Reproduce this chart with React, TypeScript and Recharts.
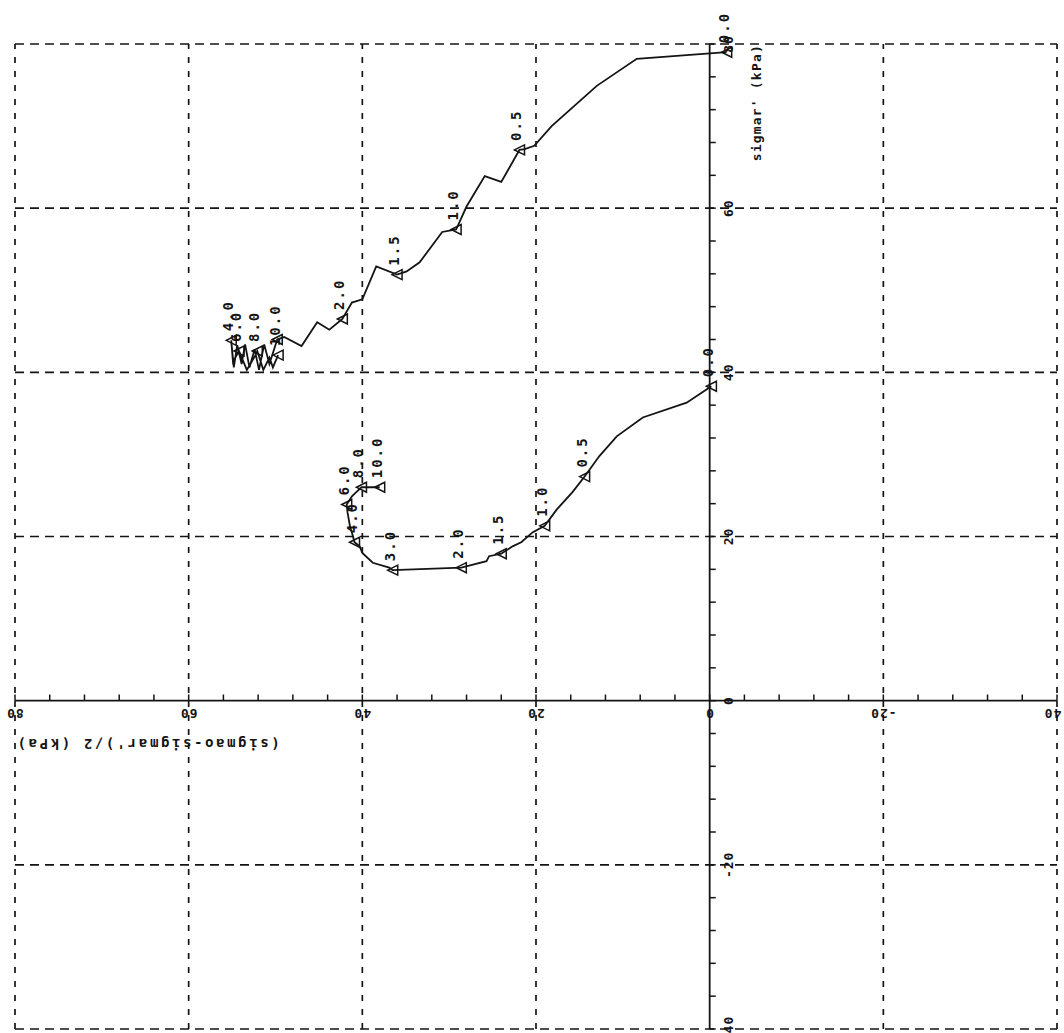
import React from "react";
import { LineChart, Line, XAxis, YAxis, ReferenceLine, ReferenceDot } from "recharts";

// axis ticks (kPa)
const gridValues = [-40, -20, 20, 40, 60, 80];
const majorTicks = [-40, -20, 0, 20, 40, 60, 80];
const minorTicks = [-36, -32, -28, -24, -16, -12, -8, -4, 4, 8, 12, 16, 24, 28, 32, 36, 44, 48, 52, 56, 64, 68, 72, 76];

// upper stress path: x = (sigmao - sigmar')/2, y = sigmar'
const upperX = [-1.96, 8.4, 13.0, 18.2, 20.2, 21.3, 21.9, 24.0, 25.9, 28.0, 29.2, 30.8, 33.4, 34.9, 36.0, 38.4, 40.0, 41.2, 42.3, 43.8, 45.2, 47.0, 49.0, 49.8, 50.7, 51.3, 51.9, 52.4, 53.0, 53.5, 53.9, 54.4, 54.8, 55.1, 54.9, 54.2, 53.3, 52.3, 52.1, 51.4, 50.7, 50.3, 49.7];
const upperY = [79.0, 78.2, 74.9, 70.0, 67.6, 67.2, 67.1, 63.2, 63.9, 60.2, 57.4, 57.1, 53.4, 52.3, 51.9, 52.9, 48.9, 48.5, 46.5, 45.2, 46.1, 43.2, 44.3, 44.0, 41.0, 43.4, 40.3, 42.8, 40.6, 43.4, 41.0, 43.3, 40.6, 43.9, 41.3, 42.6, 40.3, 42.1, 42.6, 40.3, 41.8, 40.6, 42.1];
const upperTime = ["0.0", null, null, null, null, null, "0.5", null, null, null, "1.0", null, null, null, "1.5", null, null, null, "2.0", null, null, null, null, "", null, null, null, null, null, null, null, null, null, "4.0", null, "6.0", null, null, "8.0", null, null, null, "10.0"];

// lower stress path
const lowerX = [-0.2, 2.65, 7.7, 10.7, 12.7, 14.4, 15.8, 17.6, 19.0, 20.4, 21.7, 22.7, 24.0, 25.4, 25.7, 28.6, 36.5, 36.9, 38.8, 40.0, 40.3, 40.9, 41.2, 41.4, 41.7, 41.8, 41.2, 40.7, 40.1, 38.0];
const lowerY = [38.3, 36.3, 34.5, 32.2, 29.8, 27.3, 25.4, 23.3, 21.3, 20.5, 19.3, 18.8, 17.9, 17.6, 17.0, 16.2, 15.9, 16.2, 16.8, 18.0, 18.8, 19.3, 20.5, 21.1, 22.9, 23.9, 24.9, 25.4, 26.0, 26.0];
const lowerTime = ["0.0", null, null, null, null, "0.5", null, null, "1.0", null, null, null, "1.5", null, null, "2.0", "3.0", null, null, null, null, "4.0", null, null, null, "6.0", null, null, "8.0", "10.0"];

const upper = upperX.map((x, i) => ({ x, y: upperY[i], t: upperTime[i] }));
const lower = lowerX.map((x, i) => ({ x, y: lowerY[i], t: lowerTime[i] }));

const INK = "#141414";
const MONO = "'DejaVu Sans Mono', monospace";

function Marker(props: any) {
  const { cx, cy, payload, index } = props;
  if (payload.t === null || cx == null) return <g key={`m-${index}`} />;
  return (
    <g key={`m-${index}`}>
      <polygon
        points={`${cx - 5},${cy} ${cx + 5},${cy - 5} ${cx + 5},${cy + 5}`}
        fill="none"
        stroke={INK}
        strokeWidth={1.5}
      />
      {payload.t && (
        <text
          x={cx - 3}
          y={cy - 9}
          transform={`rotate(-90, ${cx - 3}, ${cy - 9})`}
          fontFamily={MONO}
          fontWeight="bold"
          fontSize={14}
          letterSpacing={2}
          fill={INK}
          textAnchor="start"
          dominantBaseline="central"
        >
          {payload.t}
        </text>
      )}
    </g>
  );
}

function XTickLabel(props: any) {
  const { cx, cy, value } = props;
  const y = cy + 13;
  return (
    <text
      x={cx}
      y={y}
      transform={`rotate(180, ${cx}, ${y})`}
      fontFamily={MONO}
      fontWeight="bold"
      fontSize={13}
      letterSpacing={1}
      fill={INK}
      textAnchor="middle"
      dominantBaseline="central"
    >
      {value}
    </text>
  );
}

function YTickLabel(props: any) {
  const { cx, cy, value } = props;
  const x = cx + 19;
  return (
    <text
      x={x}
      y={cy}
      transform={`rotate(-90, ${x}, ${cy})`}
      fontFamily={MONO}
      fontWeight="bold"
      fontSize={13}
      letterSpacing={1}
      fill={INK}
      textAnchor="middle"
      dominantBaseline="central"
    >
      {value}
    </text>
  );
}

export default function App() {
  return (
    <div style={{ position: "fixed", left: 0, top: 0, background: "#fff" }}>
      <LineChart width={1064} height={1033} margin={{ left: 15, right: 7, top: 44, bottom: 4 }}>
        <XAxis type="number" dataKey="x" domain={[-40, 80]} reversed hide allowDuplicatedCategory={false} />
        <YAxis type="number" dataKey="y" domain={[-40, 80]} hide />

        {gridValues.map((v) => (
          <ReferenceLine key={`gx${v}`} x={v} stroke={INK} strokeWidth={1.7} strokeDasharray="6 8" />
        ))}
        {gridValues.map((v) => (
          <ReferenceLine key={`gy${v}`} y={v} stroke={INK} strokeWidth={1.7} strokeDasharray="9 6" />
        ))}
        <ReferenceLine x={0} stroke={INK} strokeWidth={1.8} />
        <ReferenceLine y={0} stroke={INK} strokeWidth={1.8} />

        {minorTicks.concat(majorTicks).map((v) => (
          <ReferenceLine
            key={`tx${v}`}
            segment={[{ x: v, y: 0 }, { x: v, y: 0.75 }]}
            stroke={INK}
            strokeWidth={1.5}
          />
        ))}
        {minorTicks.concat(majorTicks).map((v) => (
          <ReferenceLine
            key={`ty${v}`}
            segment={[{ x: 0, y: v }, { x: -0.7, y: v }]}
            stroke={INK}
            strokeWidth={1.5}
          />
        ))}

        {majorTicks.map((v) => (
          <ReferenceDot key={`lx${v}`} x={v} y={0} r={0} shape={(p: any) => <XTickLabel {...p} value={v} />} />
        ))}
        {majorTicks.map((v) => (
          <ReferenceDot key={`ly${v}`} x={0} y={v} r={0} shape={(p: any) => <YTickLabel {...p} value={v} />} />
        ))}

        <ReferenceDot
          x={80}
          y={0}
          r={0}
          shape={(p: any) => {
            const x = p.cx;
            const y = p.cy + 43;
            return (
              <text
                x={x}
                y={y}
                transform={`rotate(180, ${x}, ${y})`}
                fontFamily={MONO}
                fontWeight="bold"
                fontSize={14}
                letterSpacing={2.6}
                fill={INK}
                textAnchor="end"
                dominantBaseline="central"
              >
                (sigmao-sigmar')/2 (kPa)
              </text>
            );
          }}
        />
        <ReferenceDot
          x={0}
          y={80}
          r={0}
          shape={(p: any) => {
            const x = p.cx + 47;
            const y = p.cy;
            return (
              <text
                x={x}
                y={y}
                transform={`rotate(-90, ${x}, ${y})`}
                fontFamily={MONO}
                fontWeight="bold"
                fontSize={13}
                letterSpacing={1.2}
                fill={INK}
                textAnchor="end"
                dominantBaseline="central"
              >
                sigmar' (kPa)
              </text>
            );
          }}
        />

        <Line
          data={upper}
          dataKey="y"
          type="linear"
          stroke={INK}
          strokeWidth={1.8}
          dot={(p: any) => <Marker {...p} />}
          activeDot={false}
          isAnimationActive={false}
        />
        <Line
          data={lower}
          dataKey="y"
          type="linear"
          stroke={INK}
          strokeWidth={1.8}
          dot={(p: any) => <Marker {...p} />}
          activeDot={false}
          isAnimationActive={false}
        />
      </LineChart>
    </div>
  );
}
